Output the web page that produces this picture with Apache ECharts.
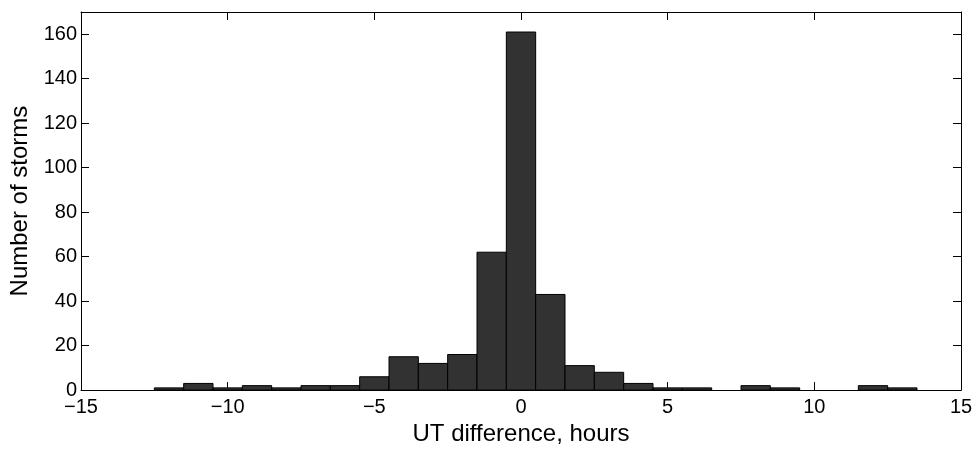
<!DOCTYPE html>
<html>
<head>
<meta charset="utf-8">
<script src="https://cdn.jsdelivr.net/npm/echarts@6/dist/echarts.min.js"></script>
<style>
  html, body { margin: 0; padding: 0; background: #fff; }
  #chart { width: 977px; height: 451px; }
</style>
</head>
<body>
<div id="chart"></div>
<script>
// Histogram of UT differences (hours), one-hour bins centred on integers
const binCenters = [-12, -11, -10, -9, -8, -7, -6, -5, -4, -3, -2, -1, 0, 1, 2, 3, 4, 5, 6, 7, 8, 9, 10, 11, 12, 13];
const stormCounts = [1, 3, 1, 2, 1, 2, 2, 6, 15, 12, 16, 62, 161, 43, 11, 8, 3, 1, 1, 0, 2, 1, 0, 0, 2, 1];
const binWidth = 1;

const xTitle = 'UT difference, hours';
const yTitle = 'Number of storms';

const FONT = '"Liberation Sans", Arial, Helvetica, sans-serif';

const chart = echarts.init(document.getElementById('chart'), null, { renderer: 'canvas' });

const data = binCenters.map((c, i) => [c, stormCounts[i]]);

const tickStyle = { show: true, inside: true, length: 8, lineStyle: { color: '#000', width: 1 } };
const lineStyle = { show: true, onZero: false, lineStyle: { color: '#000', width: 1 } };
const labelStyle = { color: '#000', fontFamily: FONT, fontSize: 20 };

chart.setOption({
  backgroundColor: '#fff',
  animation: false,
  grid: { left: 81, right: 16, top: 12, bottom: 54 },
  xAxis: [
    {
      type: 'value', position: 'bottom', min: -15, max: 15, interval: 5,
      axisLine: lineStyle, axisTick: tickStyle, splitLine: { show: false },
      axisLabel: Object.assign({ margin: 7, formatter: v => (v < 0 ? '\u2212' + Math.abs(v) : String(v)) }, labelStyle),
      name: xTitle, nameLocation: 'middle', nameGap: 27,
      nameTextStyle: { color: '#000', fontFamily: FONT, fontSize: 24 }
    },
    {
      type: 'value', position: 'top', min: -15, max: 15, interval: 5,
      axisLine: lineStyle, axisTick: tickStyle, splitLine: { show: false },
      axisLabel: { show: false }
    }
  ],
  yAxis: [
    {
      type: 'value', position: 'left', min: 0, max: 170, interval: 20,
      axisLine: lineStyle, axisTick: tickStyle, splitLine: { show: false },
      axisLabel: Object.assign({ margin: 4, showMaxLabel: false }, labelStyle),
      name: yTitle, nameLocation: 'middle', nameGap: 48, nameRotate: 90,
      nameTextStyle: { color: '#000', fontFamily: FONT, fontSize: 24 }
    },
    {
      type: 'value', position: 'right', min: 0, max: 170, interval: 20,
      axisLine: lineStyle, axisTick: tickStyle, splitLine: { show: false },
      axisLabel: { show: false }
    }
  ],
  series: [
    {
      type: 'custom',
      xAxisIndex: 0,
      yAxisIndex: 0,
      data: data,
      encode: { x: 0, y: 1 },
      renderItem: function (params, api) {
        const c = api.value(0);
        const v = api.value(1);
        if (!v) return null;
        const p0 = api.coord([c - binWidth / 2, 0]);
        const p1 = api.coord([c + binWidth / 2, v]);
        return {
          type: 'rect',
          shape: { x: p0[0], y: p1[1], width: p1[0] - p0[0], height: p0[1] - p1[1] },
          style: { fill: '#323232', stroke: '#000', lineWidth: 1 }
        };
      },
      z: 3
    }
  ]
});
</script>
</body>
</html>
